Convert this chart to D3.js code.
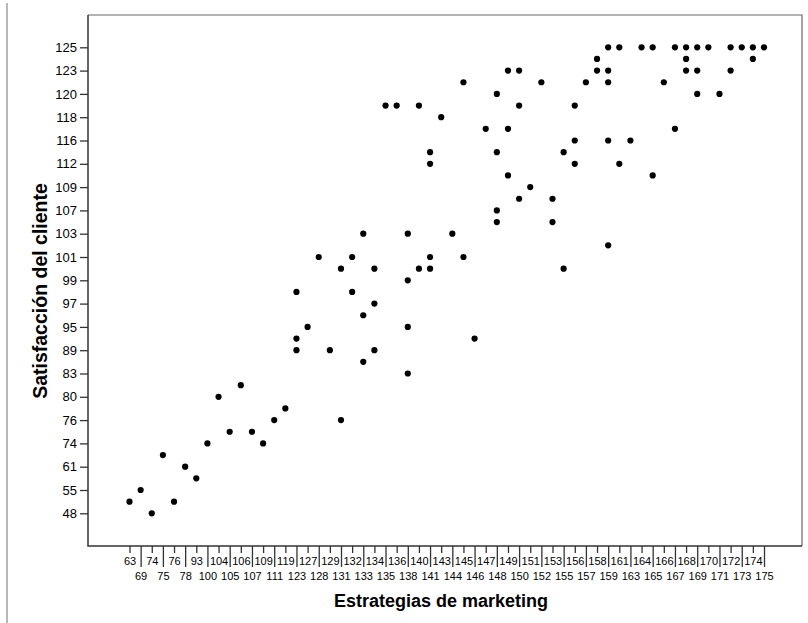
<!DOCTYPE html>
<html>
<head>
<meta charset="utf-8">
<script src="https://cdn.jsdelivr.net/npm/d3@7"></script>
<style>
  body { margin: 0; background: #fff; }
  svg { display: block; font-family: "Liberation Sans", Arial, sans-serif; }
  .axis text { fill: #000; }
  .axis line { stroke: #333; stroke-width: 1.3; }
  .title { font-weight: bold; font-size: 18px; fill: #000; }
</style>
</head>
<body>
<svg id="chart" width="808" height="623"></svg>
<script>
// category axes, as SPSS shows them
var xCats = [63, 69, 74, 75, 76, 78, 93, 100, 104, 105, 106, 107, 109, 111, 119, 123, 127, 128, 129, 131,
  132, 133, 134, 135, 136, 138, 140, 141, 143, 144, 145, 146, 147, 148, 149, 150, 151, 152, 153, 155,
  156, 157, 158, 159, 161, 163, 164, 165, 166, 167, 168, 169, 170, 171, 172, 173, 174, 175];

// every other y category is unlabelled
var yCats = [48, 51, 55, 58, 61, 67, 74, 75, 76, 78, 80, 81, 83, 86, 89, 92, 95, 96, 97, 98,
  99, 100, 101, 102, 103, 105, 107, 108, 109, 110, 112, 114, 116, 117, 118, 119, 120, 121, 123, 124, 125];
var yTickLabels = [48, 55, 61, 74, 76, 80, 83, 89, 95, 97, 99, 101, 103, 107, 109, 112, 116, 118, 120, 123, 125];

// estrategias (x) / satisfaccion (y)
var marketing = [63, 69, 74, 75, 76, 78, 93, 100, 104, 105, 106, 107, 109, 111, 119,
  123, 123, 123, 127, 128, 129, 131, 131, 132, 132, 133, 133, 133, 134, 134, 134,
  135, 136, 138, 138, 138, 138, 140, 140, 141, 141, 141, 141, 143, 144, 145, 145, 146,
  147, 148, 148, 148, 148, 149, 149, 149, 150, 150, 150, 151, 152, 153, 153, 155, 155,
  156, 156, 156, 157, 158, 158, 159, 159, 159, 159, 159, 161, 161, 163, 164, 165, 165, 166,
  167, 167, 168, 168, 168, 169, 169, 169, 170, 171, 172, 172, 173, 174, 174, 175];
var satisfaccion = [51, 55, 48, 67, 51, 61, 58, 74, 80, 75, 81, 75, 74, 76, 78,
  89, 92, 98, 95, 101, 89, 76, 100, 101, 98, 103, 96, 86, 100, 97, 89,
  119, 119, 103, 99, 95, 83, 100, 119, 101, 100, 114, 112, 118, 103, 101, 121, 92,
  117, 120, 114, 107, 105, 123, 117, 110, 123, 119, 108, 109, 121, 105, 108, 100, 114,
  119, 116, 112, 121, 124, 123, 125, 123, 121, 116, 102, 125, 112, 116, 125, 125, 110, 121,
  125, 117, 125, 124, 123, 125, 123, 120, 125, 120, 125, 123, 125, 125, 124, 125];

var frame = { left: 88, top: 15, right: 802, bottom: 546 };

var svg = d3.select("#chart");

var x = d3.scalePoint().domain(xCats).range([129.5, 764]);
var y = d3.scalePoint().domain(yCats).range([513.3, 47.3]);

// viewer edge line on the left
svg.append("line")
  .attr("x1", 7).attr("x2", 7).attr("y1", 3).attr("y2", 623)
  .attr("stroke", "#b8b8b8").attr("stroke-width", 2);

// top / right border
svg.append("path")
  .attr("d", "M" + frame.left + "," + frame.top + "H" + frame.right + "V" + frame.bottom)
  .attr("fill", "none").attr("stroke", "#666").attr("stroke-width", 1.2);

// y axis
var gy = svg.append("g").attr("class", "axis")
  .attr("transform", "translate(" + frame.left + ",0)")
  .call(d3.axisLeft(y).tickValues(yTickLabels).tickSize(8).tickPadding(3));
gy.select(".domain").remove();
gy.selectAll("text").style("font-size", "13px");

// x axis, labels staggered on two rows
var gx = svg.append("g").attr("class", "axis")
  .attr("transform", "translate(0," + frame.bottom + ")")
  .call(d3.axisBottom(x).tickSize(7).tickPadding(3));
gx.select(".domain").remove();
gx.selectAll(".tick").each(function(d, i) {
  var t = d3.select(this);
  if (i % 2 == 1) {
    t.select("line").attr("y2", 21);
    t.select("text").attr("y", 26);
  } else {
    t.select("text").attr("y", 11);
  }
});
gx.selectAll("text").style("font-size", "11px");

// axis lines
svg.append("path")
  .attr("d", "M" + frame.left + "," + frame.top + "V" + frame.bottom + "H" + frame.right)
  .attr("fill", "none").attr("stroke", "#333").attr("stroke-width", 1.5);

// points
svg.append("g").selectAll("circle")
  .data(d3.range(marketing.length))
  .join("circle")
  .attr("cx", function(i) { return x(marketing[i]); })
  .attr("cy", function(i) { return y(satisfaccion[i]); })
  .attr("r", 3.1)
  .attr("fill", "#000");

svg.append("text").attr("class", "title")
  .attr("x", 441).attr("y", 607)
  .attr("text-anchor", "middle")
  .text("Estrategias de marketing");

svg.append("text").attr("class", "title")
  .attr("transform", "translate(47,291) rotate(-90)")
  .attr("text-anchor", "middle")
  .style("font-size", "19.5px")
  .text("Satisfacción del cliente");
</script>
</body>
</html>
